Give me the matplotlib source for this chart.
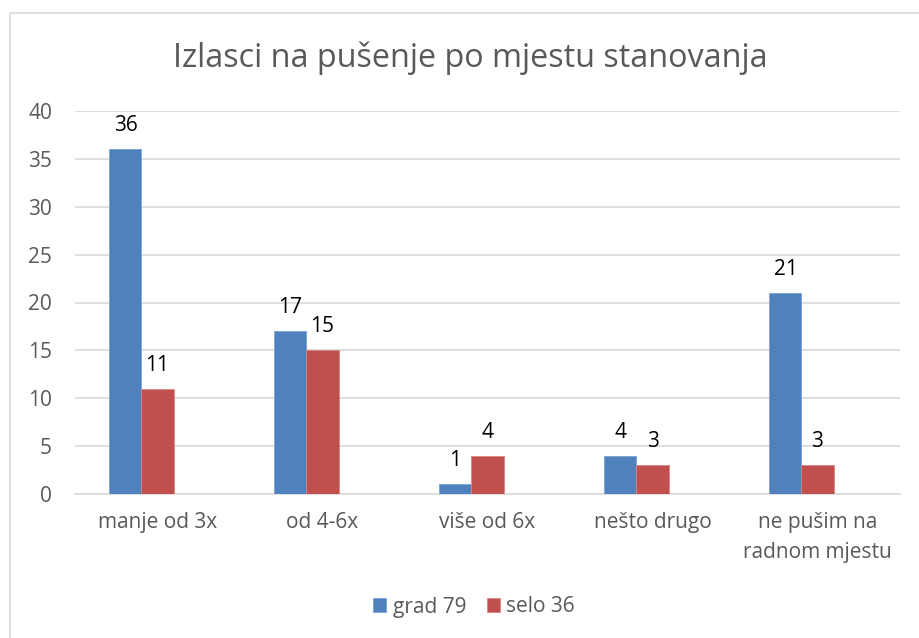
import matplotlib.pyplot as plt
import matplotlib.patches as mpatches
import numpy as np

categories = ['manje od 3x', 'od 4-6x', 'više od 6x', 'nešto drugo', 'ne pušim na\nradnom mjestu']
grad = [36, 17, 1, 4, 21]
selo = [11, 15, 4, 3, 3]
series_names = ['grad 79', 'selo 36']

plt.rcParams['font.family'] = ['Open Sans', 'DejaVu Sans']
gray = '#595959'

fig = plt.figure(figsize=(9.2, 6.38), dpi=100)
ax = fig.add_axes([75/920, 1-494/638, 825/920, 383/638])

# chart frame like Excel
fig.patches.append(mpatches.Rectangle((10/920, -0.05), 1.1, 1-13/638+0.05,
                                      transform=fig.transFigure, fill=False,
                                      edgecolor='#D9D9D9', linewidth=1.2))

x = np.arange(len(categories))
w = 0.194
# third (empty) series slot on the right, so groups sit left of the tick
b1 = ax.bar(x - w, grad, w, color='#4F81BD', edgecolor='#7DA2D0', linewidth=0.6, label=series_names[0], zorder=3)
b2 = ax.bar(x, selo, w, color='#C0504D', edgecolor='#D68785', linewidth=0.6, label=series_names[1], zorder=3)

for bars in (b1, b2):
    for r in bars:
        ax.annotate(str(int(r.get_height())), (r.get_x() + r.get_width()/2, r.get_height()),
                    xytext=(0, 13), textcoords='offset points', ha='center', va='baseline',
                    fontsize=15, color='black')

ax.set_xlim(-0.5, len(categories) - 0.5)
ax.set_ylim(0, 40)
ax.set_yticks(range(0, 41, 5))
ax.yaxis.grid(True, color='#D9D9D9', linewidth=1.2, zorder=0)
ax.set_axisbelow(True)
for s in ['top', 'right', 'left']:
    ax.spines[s].set_visible(False)
ax.spines['bottom'].set_color('#D9D9D9')
ax.spines['bottom'].set_linewidth(1.2)
ax.tick_params(axis='both', length=0, labelsize=15, labelcolor=gray)
ax.tick_params(axis='y', pad=16.5)
ax.tick_params(axis='x', pad=13)
ax.set_xticks(x)
ax.set_xticklabels(categories, linespacing=1.55)

fig.text(470/920, 1-58/638, 'Izlasci na pušenje po mjestu stanovanja', ha='center', va='center',
         fontsize=23.3, color=gray)

fig.legend(handles=[b1, b2], labels=series_names, loc='center', bbox_to_anchor=(474/920, 1-607/638),
           ncol=2, frameon=False, fontsize=15, labelcolor=gray, handlelength=0.63,
           handleheight=0.63, handletextpad=0.3, columnspacing=1.0)

fig.savefig('out.png', dpi=100)
